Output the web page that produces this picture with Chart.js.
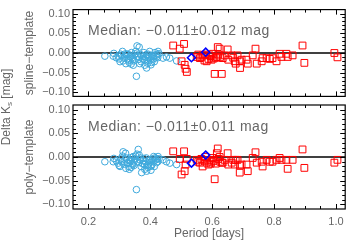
<!DOCTYPE html>
<html>
<head>
<meta charset="utf-8">
<script src="https://cdn.jsdelivr.net/npm/chart.js@4.4.1/dist/chart.umd.min.js"></script>
<style>
body{margin:0;background:#fff;width:351px;height:241px;position:relative;overflow:hidden}
canvas{position:absolute;left:0;top:0}
</style>
</head>
<body>
<canvas id="c2" width="351" height="241"></canvas>
<canvas id="c1" width="351" height="106"></canvas>
<script>
// --- data ---
// cyan circles (short period stars)
const rrcPeriod = [0.253,0.280,0.282,0.290,0.296,0.299,0.302,0.304,0.307,0.310,0.312,0.315,0.318,0.320,0.321,0.323,0.325,0.328,0.330,0.332,0.334,0.336,0.338,0.339,0.341,0.343,0.345,0.347,0.348,0.350,0.353,0.355,0.357,0.358,0.361,0.363,0.364,0.366,0.368,0.370,0.372,0.375,0.377,0.379,0.381,0.382,0.385,0.387,0.388,0.390,0.392,0.393,0.395,0.396,0.398,0.400,0.402,0.404,0.407,0.409,0.411,0.413,0.415,0.418,0.420,0.422,0.424,0.425,0.428,0.441,0.452,0.463,0.485];
const rrcSpline = [-0.008,-0.008,-0.001,-0.012,-0.008,-0.015,-0.022,-0.003,-0.006,0.004,-0.020,-0.013,-0.008,-0.002,-0.027,-0.004,-0.015,-0.003,-0.018,-0.024,-0.008,-0.010,-0.028,0.001,-0.012,-0.017,-0.031,-0.020,-0.006,-0.002,0.004,-0.059,0.018,-0.008,-0.010,-0.016,0.015,-0.027,-0.004,-0.022,-0.006,-0.015,-0.009,0.001,-0.018,-0.031,-0.010,-0.004,-0.038,-0.020,-0.026,-0.003,-0.008,-0.013,0.004,-0.018,-0.030,-0.024,-0.006,-0.010,-0.015,-0.022,0.001,-0.006,-0.010,-0.003,-0.012,0.004,-0.002,-0.013,-0.010,-0.013,-0.020];
const rrcPoly = [-0.010,-0.010,-0.003,-0.008,-0.013,-0.018,-0.020,-0.004,-0.010,0.002,0.011,-0.015,-0.006,0.008,-0.024,-0.002,-0.012,-0.013,-0.020,-0.026,-0.006,-0.008,-0.022,-0.001,-0.014,-0.016,0.001,-0.018,-0.008,-0.004,0.002,-0.069,0.006,-0.010,0.016,-0.012,0.004,-0.006,-0.002,-0.020,-0.033,-0.014,-0.008,-0.003,-0.016,-0.026,-0.010,-0.002,-0.030,-0.018,-0.022,-0.016,-0.008,-0.012,-0.006,-0.020,-0.028,-0.018,-0.004,-0.010,0.001,-0.020,-0.002,-0.006,-0.012,-0.004,-0.010,0.001,-0.004,-0.006,-0.010,-0.013,-0.016];

// red squares (long period stars)
const rrabPeriod = [0.474,0.495,0.501,0.509,0.511,0.514,0.518,0.550,0.555,0.560,0.565,0.569,0.575,0.578,0.582,0.588,0.592,0.595,0.598,0.602,0.605,0.608,0.612,0.615,0.618,0.620,0.624,0.626,0.631,0.634,0.640,0.650,0.652,0.663,0.668,0.673,0.676,0.682,0.689,0.690,0.695,0.711,0.715,0.731,0.740,0.744,0.760,0.763,0.776,0.786,0.795,0.808,0.818,0.824,0.840,0.844,0.860,0.892,0.898,0.995,1.005];
const rrabSpline = [0.019,0.011,-0.021,0.023,-0.030,-0.040,-0.048,-0.010,-0.004,-0.013,-0.010,-0.006,-0.019,-0.004,-0.021,-0.015,-0.006,-0.008,-0.017,-0.002,-0.014,-0.053,-0.012,-0.010,0.015,-0.004,0.011,-0.010,-0.053,-0.013,-0.006,0.009,-0.017,-0.006,-0.012,-0.021,-0.027,-0.006,-0.021,-0.038,-0.017,-0.017,-0.027,-0.006,0.011,-0.027,-0.021,-0.013,-0.013,-0.015,-0.013,-0.021,-0.002,-0.010,-0.002,-0.010,-0.006,0.019,-0.025,0.000,-0.011];
const rrabPoly = [0.012,-0.004,-0.037,0.012,-0.030,-0.016,-0.004,-0.006,-0.010,-0.012,-0.004,-0.020,-0.008,0.000,-0.012,-0.016,-0.006,-0.014,-0.010,-0.002,-0.008,-0.047,-0.014,0.008,0.018,-0.004,0.000,-0.010,-0.012,-0.012,-0.006,0.008,-0.016,-0.012,-0.006,-0.016,-0.006,-0.006,-0.033,-0.018,-0.016,-0.016,-0.030,-0.002,0.010,-0.012,-0.010,-0.020,-0.006,-0.010,-0.010,-0.006,-0.002,-0.006,-0.006,-0.025,-0.006,0.016,-0.023,-0.012,-0.006];

// blue diamonds
const otherPeriod = [0.533,0.579];
const otherSpline = [-0.012,0.002];
const otherPoly = [-0.013,0.004];

const xTicks = [0.2,0.4,0.6,0.8,1.0];
const yTicks = [-0.10,-0.05,0.00,0.05,0.10];
const medianText = ['Median: \u22120.011\u00b10.012 mag','Median: \u22120.011\u00b10.011 mag'];
const panelTitles = ['spline\u2212template','poly\u2212template'];

const pts = (xs,ys)=>xs.map((x,i)=>({x, y:ys[i]}));
const fmtY = v=>(v<-1e-9?'\u2212':'')+Math.abs(v).toFixed(2);
const grey = '#666';
const fam = '"Liberation Sans", Arial, sans-serif';

// --- frame, inward ticks, zero line, median label ---
const framePlugin = {
  id:'frame',
  beforeDatasetsDraw(chart){
    const {ctx, chartArea:a, scales:{y}} = chart;
    const y0 = y.getPixelForValue(0);
    ctx.save();
    ctx.strokeStyle='#000'; ctx.lineWidth=1.3;
    ctx.beginPath(); ctx.moveTo(a.left,y0); ctx.lineTo(a.right,y0); ctx.stroke();
    ctx.restore();
  },
  afterDraw(chart, args, opts){
    const {ctx, chartArea:a, scales:{x,y}} = chart;
    ctx.save();
    ctx.strokeStyle='#000'; ctx.lineWidth=1.2;
    ctx.strokeRect(a.left, a.top, a.right-a.left, a.bottom-a.top);
    ctx.lineWidth=1;
    ctx.beginPath();
    for(let i=-11;i<=11;i++){
      const py = Math.round(y.getPixelForValue(i/100))+0.5;
      if(py<a.top+1 || py>a.bottom-1) continue;
      const len = i%5===0 ? 5 : 3;
      ctx.moveTo(a.left,py); ctx.lineTo(a.left+len,py);
      ctx.moveTo(a.right,py); ctx.lineTo(a.right-len,py);
    }
    for(let i=3;i<=20;i++){
      const px = Math.round(x.getPixelForValue(i*0.05))+0.5;
      if(px<a.left+1 || px>a.right-1) continue;
      const len = i%4===0 ? 5 : 3;
      ctx.moveTo(px,a.bottom); ctx.lineTo(px,a.bottom-len);
      ctx.moveTo(px,a.top); ctx.lineTo(px,a.top+len);
    }
    ctx.stroke();
    ctx.fillStyle=grey;
    if(opts.label){
      ctx.font='14px '+fam;
      ctx.letterSpacing='0.5px';
      ctx.textBaseline='middle';
      ctx.fillText(opts.label, a.left+15, a.top+22);
      ctx.letterSpacing='0px';
    }
    if(opts.outer){
      // shared y title "Delta Ks [mag]" centred between both panels
      ctx.translate(7, 107);
      ctx.rotate(-Math.PI/2);
      ctx.textBaseline='middle';
      ctx.font='12px '+fam;
      const p1='Delta K', p2=' [mag]';
      ctx.font='8px '+fam; const ws=ctx.measureText('s').width;
      ctx.font='12px '+fam;
      const w1=ctx.measureText(p1).width, w2=ctx.measureText(p2).width;
      let sx=-(w1+ws+w2)/2;
      ctx.fillText(p1, sx, 0); sx+=w1;
      ctx.font='8px '+fam; ctx.fillText('s', sx, 3); sx+=ws;
      ctx.font='12px '+fam; ctx.fillText(p2, sx, 0);
    }
    ctx.restore();
  }
};

function makePanel(id, vals, idx, bottom){
  const d = [
    {data:pts(otherPeriod, vals[2]), pointStyle:'rectRot', pointRadius:4, borderColor:'#0000ff', borderWidth:1.6},
    {data:pts(rrabPeriod, vals[1]), pointStyle:'rect', pointRadius:4.8, borderColor:'#ff0000', borderWidth:1},
    {data:pts(rrcPeriod, vals[0]), pointStyle:'circle', pointRadius:3.3, borderColor:'#3fa9dc', borderWidth:1}
  ];
  d.forEach(s=>{ s.backgroundColor='rgba(0,0,0,0)'; s.showLine=false; s.pointHoverRadius=s.pointRadius; });
  return new Chart(document.getElementById(id), {
    type:'scatter',
    data:{datasets:d},
    plugins:[framePlugin],
    options:{
      responsive:false, animation:false,
      layout:{padding:{left:0, right:4, top: bottom?105:1, bottom: bottom?0:1}},
      plugins:{legend:{display:false}, tooltip:{enabled:false}, frame:{label:medianText[idx], outer:bottom}},
      scales:{
        x:{
          type:'linear', min:0.15, max:1.03, display:bottom,
          grid:{display:false, drawTicks:false}, border:{display:false},
          afterBuildTicks:s=>{ s.ticks = xTicks.map(v=>({value:v})); },
          afterFit:s=>{ s.height = bottom ? 32 : 0; },
          ticks:{padding:6, color:grey, font:{family:fam, size:11}, callback:v=>v.toFixed(1), maxRotation:0},
          title:{display:true, text:'Period [days]', color:grey, padding:{top:0,bottom:0}, font:{family:fam, size:12}}
        },
        y:{
          type:'linear', min:-0.11, max:0.11,
          grid:{display:false, drawTicks:false}, border:{display:false},
          afterBuildTicks:s=>{ s.ticks = yTicks.map(v=>({value:v})); },
          afterFit:s=>{ s.width = 73; },
          ticks:{padding:3, color:grey, font:{family:fam, size:11}, callback:fmtY},
          title:{display:true, text:panelTitles[idx], color:grey, padding:{top:22,bottom:0}, font:{family:fam, size:12}}
        }
      }
    }
  });
}

makePanel('c1', [rrcSpline, rrabSpline, otherSpline], 0, false);
makePanel('c2', [rrcPoly, rrabPoly, otherPoly], 1, true);
</script>
</body>
</html>
